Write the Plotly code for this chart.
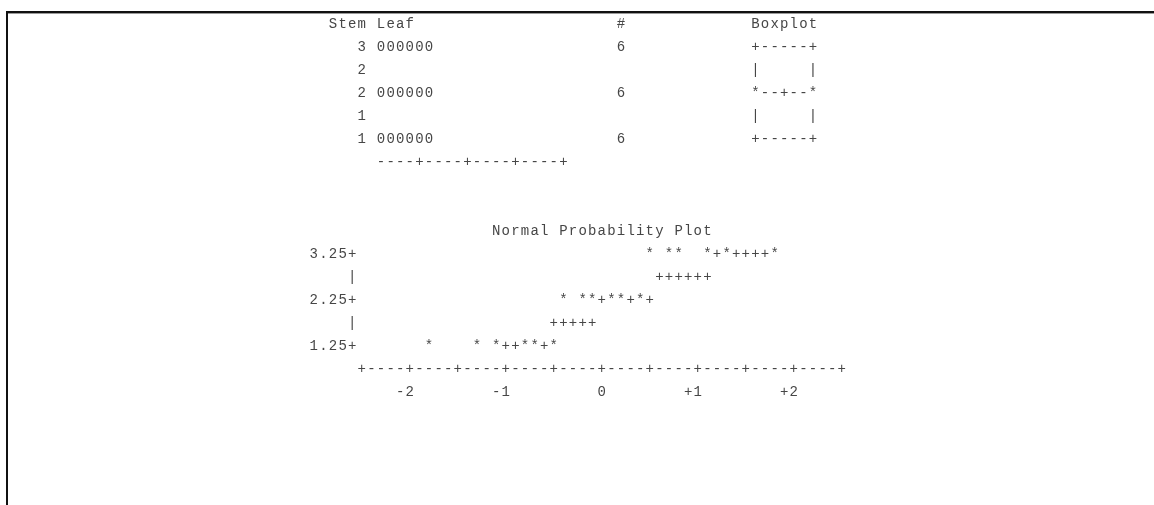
import plotly.graph_objects as go

W, H = 1154, 505

# ---- stem-and-leaf display with boxplot ----
stems = [3, 2, 2, 1, 1]
leaves = ["000000", "", "000000", "", "000000"]
counts = [6, None, 6, None, 6]
box_rows = ["+-----+", "|     |", "*--+--*", "|     |", "+-----+"]
leaf_scale = "----+----+----+----+"

# ---- normal probability plot ----
normal_scores = [-1.8, -1.3, -1.1, -0.8, -0.7, -0.5,
                 -0.4, -0.2, -0.1, 0.1, 0.2, 0.4,
                 0.5, 0.7, 0.8, 1.1, 1.3, 1.8]
values = [1.25, 1.25, 1.25, 1.25, 1.25, 1.25,
          2.25, 2.25, 2.25, 2.25, 2.25, 2.25,
          3.25, 3.25, 3.25, 3.25, 3.25, 3.25]
# reference line cells, one run of '+' per print row
ref_y = [1.25, 1.75, 2.25, 2.75, 3.25]
ref_from = [-1.1, -0.5, 0.0, 0.6, 1.2]
ref_to = [-0.6, -0.1, 0.5, 1.1, 1.7]
y_ticks = [3.25, 2.25, 1.25]
y_minor = [2.75, 1.75]
x_ticks = [-2, -1, 0, 1, 2]
x_tick_text = ["-2", "-1", "0", "+1", "+2"]
x_axis_from, x_axis_to = -2.5, 2.5

FONT = dict(family="Liberation Mono, Courier New, monospace", size=14, color="#444444")

# character cell geometry (pixels)
CW, LH = 9.6, 23.0
COL0_X, LINE0_Y = 313.8, 24.5


def put(buf, x0, y0, s, step):
    for i, ch in enumerate(s):
        if ch != " ":
            buf[0].append(x0 + i * step)
            buf[1].append(y0)
            buf[2].append(ch)


# grid of (column, line) for the stem-and-leaf part
grid = ([], [], [])
put(grid, 2, 0, "Stem", 1)
put(grid, 7, 0, "Leaf", 1)
put(grid, 32, 0, "#", 1)
put(grid, 46, 0, "Boxplot", 1)
for i, (st, lf, n, bx) in enumerate(zip(stems, leaves, counts, box_rows)):
    line = i + 1
    put(grid, 5, line, str(st), 1)
    put(grid, 7, line, lf, 1)
    if n is not None:
        put(grid, 32, line, str(n), 1)
    put(grid, 46, line, bx, 1)
put(grid, 7, len(stems) + 1, leaf_scale, 1)

# normal probability plot in data units: 0.1 per column, 0.5 per line
ZS, YS = 0.1, 0.5
npp = ([], [], [])
put(npp, -1.1, 3.75, "Normal Probability Plot", ZS)
for t in y_ticks:
    put(npp, -3.0, t, f"{t:.2f}+", ZS)
for t in y_minor:
    put(npp, -2.6, t, "|", ZS)

n_cells = int(round((x_axis_to - x_axis_from) / ZS))
axis_str = "".join("+" if k % 5 == 0 else "-" for k in range(n_cells + 1))
put(npp, x_axis_from, min(y_ticks) - YS, axis_str, ZS)
for t, lab in zip(x_ticks, x_tick_text):
    put(npp, t - (len(lab) - 1) * ZS, min(y_ticks) - 2 * YS, lab, ZS)

star_cells = {(round(z, 1), v) for z, v in zip(normal_scores, values)}
for yv, a, b in zip(ref_y, ref_from, ref_to):
    k = 0
    while a + k * ZS <= b + 1e-9:
        z = round(a + k * ZS, 1)
        if (z, yv) not in star_cells:
            npp[0].append(z)
            npp[1].append(yv)
            npp[2].append("+")
        k += 1
npp[0].extend(normal_scores)
npp[1].extend(values)
npp[2].extend(["*"] * len(values))

fig = go.Figure()
fig.add_trace(go.Scatter(x=grid[0], y=grid[1], text=grid[2], mode="text",
                         textposition="middle center", textfont=FONT, opacity=0.99,
                         hoverinfo="skip", xaxis="x", yaxis="y"))
fig.add_trace(go.Scatter(x=npp[0], y=npp[1], text=npp[2], mode="text",
                         textposition="middle center", textfont=FONT, opacity=0.99,
                         hoverinfo="skip", xaxis="x2", yaxis="y2"))

# column/line axes
x_rng = [(0 - COL0_X) / CW, (W - COL0_X) / CW]
y_rng = [(H - LINE0_Y) / LH, (0 - LINE0_Y) / LH]
# data axes of the probability plot: column = 30 + 10*z, line = 10 + 2*(3.25 - y)
zx0 = COL0_X + 30 * CW
z_rng = [(0 - zx0) / (CW / ZS), (W - zx0) / (CW / ZS)]
yy0 = LINE0_Y + LH * (10 + 3.25 / YS)
v_rng = [(yy0 - H) / (LH / YS), (yy0 - 0) / (LH / YS)]

hidden = dict(visible=False, fixedrange=True, showgrid=False, zeroline=False)
fig.update_layout(
    width=W, height=H,
    margin=dict(l=0, r=0, t=0, b=0),
    paper_bgcolor="white", plot_bgcolor="white",
    showlegend=False,
    xaxis=dict(range=x_rng, domain=[0, 1], **hidden),
    yaxis=dict(range=y_rng, domain=[0, 1], **hidden),
    xaxis2=dict(range=z_rng, overlaying="x", anchor="y2", **hidden),
    yaxis2=dict(range=v_rng, overlaying="y", anchor="x2", **hidden),
    shapes=[
        dict(type="line", xref="paper", yref="paper", x0=6 / W, x1=1,
             y0=1 - 12.0 / H, y1=1 - 12.0 / H, line=dict(color="#111111", width=2)),
        dict(type="line", xref="paper", yref="paper", x0=8 / W, x1=1,
             y0=1 - 13.5 / H, y1=1 - 13.5 / H, line=dict(color="#9a9a9a", width=1)),
        dict(type="line", xref="paper", yref="paper", x0=7 / W, x1=7 / W,
             y0=0, y1=1 - 11.0 / H, line=dict(color="#111111", width=2)),
    ],
)

fig.write_html(
    "out.html",
    config={"displayModeBar": False},
    post_script="document.documentElement.style.overflow='hidden';"
                "document.body.style.overflow='hidden';",
)
